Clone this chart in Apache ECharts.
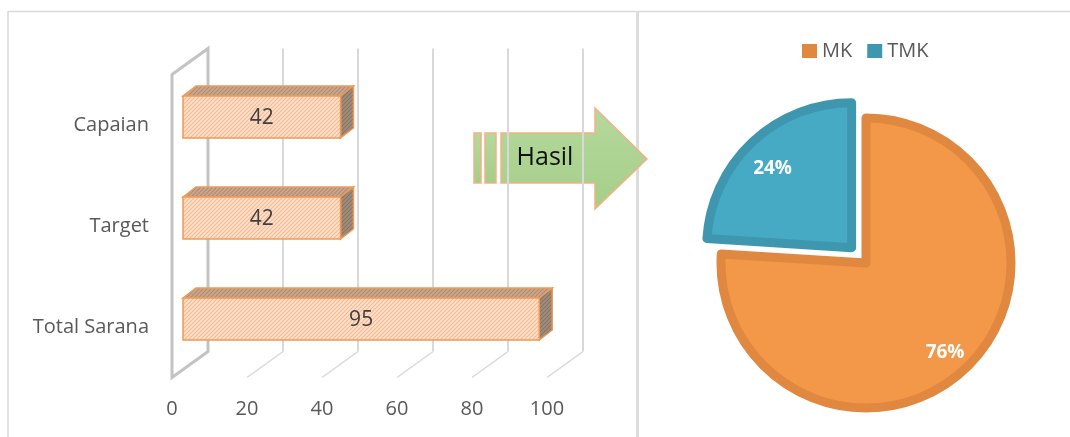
<!DOCTYPE html>
<html>
<head>
<meta charset="utf-8">
<script src="https://cdn.jsdelivr.net/npm/echarts@6/dist/echarts.min.js"></script>
<style>
html,body{margin:0;padding:0;background:#fff;}
#chart{width:1070px;height:437px;}
</style>
</head>
<body>
<div id="chart"></div>
<script>
// ---- data ----
const categories = ['Total Sarana', 'Target', 'Capaian'];
const barValues = [95, 42, 42];
const axisMin = 0, axisMax = 100, axisStep = 20;
const gridTicks = [0, 20, 40, 60, 80, 100];
const pieNames = ['MK', 'TMK'];
const pieValues = [76, 24];
const arrowLabel = 'Hasil';

// ---- styles ----
const FONT = '"Open Sans", sans-serif';
const pieFill = ['#F39849', '#47AAC4'];
const pieEdge = ['#E0883F', '#3F97AF'];

function makePattern(bg, line, size) {
  const c = document.createElement('canvas');
  c.width = size; c.height = size;
  const g = c.getContext('2d');
  g.fillStyle = bg; g.fillRect(0, 0, size, size);
  g.strokeStyle = line; g.lineWidth = 1.1;
  for (const k of [0, size, 2 * size]) {
    g.beginPath(); g.moveTo(-1, k + 1); g.lineTo(k + 1, -1); g.stroke();
  }
  return { type: 'pattern', image: c, repeat: 'repeat' };
}
const frontPat = makePattern('#FCE2CE', '#F4B88E', 4);
const topPat = makePattern('#CBA890', '#B08A70', 4);
const sidePat = makePattern('#A28D7D', '#887464', 4);
const barEdge = '#F09A55';

function renderGrid(params, api) {
  const v = api.value(0);
  const p = api.coord([v, 0]);
  const cs = params.coordSys;
  const top = cs.y, bot = cs.y + cs.height, x = p[0];
  const bx = 36, by = -26;
  if (v === axisMin) {
    return {
      type: 'polygon',
      shape: { points: [[x, top], [x + bx, top + by], [x + bx, bot + by], [x, bot]] },
      style: { fill: null, stroke: '#C3C3C3', lineWidth: 3 }
    };
  }
  return {
    type: 'group',
    children: [
      { type: 'line', shape: { x1: x + bx, y1: top + by, x2: x + bx, y2: bot + by }, style: { stroke: '#D9D9D9', lineWidth: 2 } },
      { type: 'line', shape: { x1: x + bx, y1: bot + by, x2: x, y2: bot }, style: { stroke: '#D9D9D9', lineWidth: 1.5 } }
    ]
  };
}

function renderBar(params, api) {
  const v = api.value(0), c = api.value(1);
  const a = api.coord([0, c]), b = api.coord([v, c]);
  const dx = 13, dy = -10, fx = 11, fy = -8, h = 42;
  const xa = a[0] + fx, xb = b[0] + fx, yt = a[1] + fy - h / 2, yb = yt + h;
  return {
    type: 'group',
    children: [
      { type: 'polygon', shape: { points: [[xa, yt], [xa + dx, yt + dy], [xb + dx, yt + dy], [xb, yt]] },
        style: { fill: topPat, stroke: barEdge, lineWidth: 1.5 } },
      { type: 'polygon', shape: { points: [[xb, yt], [xb + dx, yt + dy], [xb + dx, yb + dy], [xb, yb]] },
        style: { fill: sidePat, stroke: barEdge, lineWidth: 1.5 } },
      { type: 'rect', shape: { x: xa, y: yt, width: xb - xa, height: h },
        style: { fill: frontPat, stroke: barEdge, lineWidth: 1.5 } },
      { type: 'text', style: { text: String(v), x: (xa + xb) / 2, y: yt + h / 2 + 1, align: 'center', verticalAlign: 'middle',
        fontSize: 21, fill: '#404040', fontFamily: FONT } }
    ]
  };
}

const pieData = pieNames.map((n, i) => ({
  name: n, value: pieValues[i], selected: n === 'TMK',
  itemStyle: { color: pieFill[i], borderColor: pieEdge[i], borderWidth: 9 }
}));
const pieLabelData = pieNames.map((n, i) => ({
  name: n, value: pieValues[i], selected: n === 'TMK',
  itemStyle: { color: 'rgba(0,0,0,0)', borderWidth: 0 }
}));

const chart = echarts.init(document.getElementById('chart'), null, { renderer: 'canvas' });
chart.setOption({
  animation: false,
  backgroundColor: '#fff',
  textStyle: { fontFamily: FONT },
  grid: { left: 172, width: 375, top: 74.5, height: 303, containLabel: false },
  xAxis: {
    type: 'value', min: axisMin, max: axisMax, interval: axisStep,
    axisLine: { show: false }, axisTick: { show: false }, splitLine: { show: false },
    axisLabel: { margin: 22, fontSize: 20, color: '#595959', fontFamily: FONT }
  },
  yAxis: {
    type: 'category', data: categories,
    axisLine: { show: false }, axisTick: { show: false }, splitLine: { show: false },
    axisLabel: { margin: 23, fontSize: 20, color: '#595959', fontFamily: FONT }
  },
  legend: {
    data: pieNames.map((n, i) => ({ name: n, itemStyle: { color: pieEdge[i], borderWidth: 0 } })),
    left: 797, top: 36, icon: 'rect', itemWidth: 15, itemHeight: 14, itemGap: 15,
    selectedMode: false,
    textStyle: { fontSize: 20, color: '#595959', fontFamily: FONT, lineHeight: 20 }
  },
  graphic: [
    { type: 'line', shape: { x1: 8, y1: 11.5, x2: 1070, y2: 11.5 }, style: { stroke: '#D9D9D9', lineWidth: 1.5 }, z: 0 },
    { type: 'line', shape: { x1: 8, y1: 11, x2: 8, y2: 437 }, style: { stroke: '#D9D9D9', lineWidth: 1.5 }, z: 0 },
    { type: 'rect', shape: { x: 636, y: 11, width: 3, height: 426 }, style: { fill: '#DCDCDC' }, z: 0 },
    {
      type: 'group', z: 100,
      children: [
        { type: 'rect', shape: { x: 474, y: 133, width: 7, height: 50 },
          style: { fill: { type: 'linear', x: 0, y: 0, x2: 0, y2: 1, colorStops: [{ offset: 0, color: '#B5D99D' }, { offset: 1, color: '#A5CE89' }] }, stroke: '#F4B183', lineWidth: 1.5 } },
        { type: 'rect', shape: { x: 485, y: 133, width: 11, height: 50 },
          style: { fill: { type: 'linear', x: 0, y: 0, x2: 0, y2: 1, colorStops: [{ offset: 0, color: '#B5D99D' }, { offset: 1, color: '#A5CE89' }] }, stroke: '#F4B183', lineWidth: 1.5 } },
        { type: 'polygon', shape: { points: [[501, 133], [595, 133], [595, 108], [647, 159], [595, 209], [595, 183], [501, 183]] },
          style: { fill: { type: 'linear', x: 0, y: 0, x2: 0, y2: 1, colorStops: [{ offset: 0, color: '#B5D99D' }, { offset: 1, color: '#A5CE89' }] }, stroke: '#F4B183', lineWidth: 1.5 } },
        { type: 'text', style: { text: arrowLabel, x: 545, y: 158, align: 'center', verticalAlign: 'middle', fontSize: 25, fill: '#111', fontFamily: FONT } }
      ]
    }
  ],
  series: [
    {
      type: 'custom', z: 1, silent: true, clip: false,
      encode: { x: 0, y: 1 },
      data: gridTicks.map(t => [t, 0]),
      renderItem: renderGrid
    },
    {
      type: 'custom', z: 3, silent: true, clip: false,
      encode: { x: 0, y: 1 },
      data: barValues.map((v, i) => [v, i]),
      renderItem: renderBar
    },
    {
      type: 'pie', center: [866, 263], radius: 145, startAngle: 90, clockwise: true,
      selectedMode: 'single', selectedOffset: 21,
      data: pieData,
      label: { show: false }, labelLine: { show: false },
      emphasis: { disabled: true, scale: false }, tooltip: { show: false }
    },
    {
      type: 'pie', center: [866, 263], radius: [80, 145], startAngle: 90, clockwise: true,
      selectedMode: 'single', selectedOffset: 21, silent: true,
      data: pieLabelData,
      label: { show: true, position: 'inside', formatter: '{p|{d}%}', color: '#fff', fontWeight: 'bold', fontSize: 19, fontFamily: FONT,
        rich: { p: { color: '#fff', fontWeight: 'bold', fontSize: 19, fontFamily: FONT, padding: [10, 0, 0, 0] } } },
      labelLine: { show: false },
      emphasis: { disabled: true, scale: false }
    }
  ]
});
</script>
</body>
</html>
